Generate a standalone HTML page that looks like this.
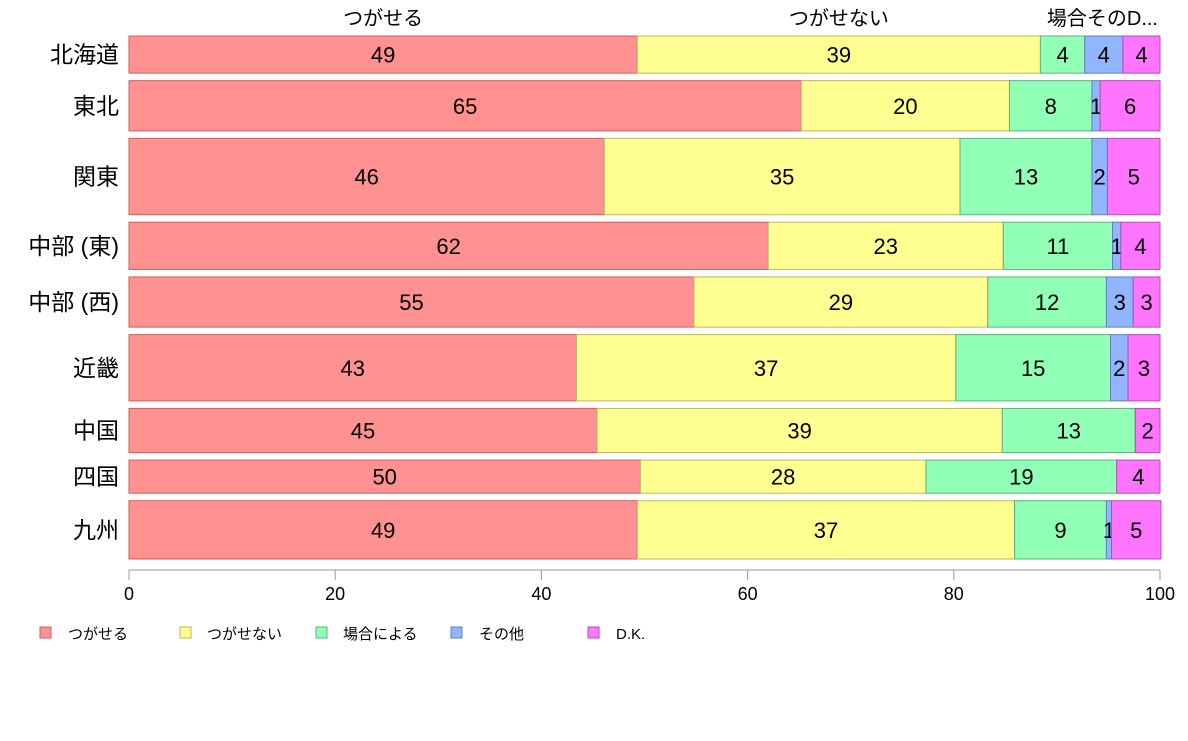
<!DOCTYPE html>
<html><head><meta charset="utf-8"><style>
html,body{margin:0;padding:0;background:#fff;}
svg text{font-family:"Liberation Sans","Noto Sans CJK JP",sans-serif;}
</style></head><body>
<svg id="chart" width="1188" height="736" xmlns="http://www.w3.org/2000/svg"></svg>
<script>
const regions = ["北海道","東北","関東","中部 (東)","中部 (西)","近畿","中国","四国","九州"];
const rowWeights = [37,50,76,47,50,66,44,33,58];
const seriesNames = ["つがせる","つがせない","場合による","その他","D.K."];
const s1 = [49.3,65.2,46.1,62.0,54.8,43.4,45.4,49.6,49.3];
const s2 = [39.1,20.2,34.5,22.8,28.5,36.8,39.3,27.7,36.6];
const s3 = [4.3,8.0,12.8,10.6,11.5,15.0,12.9,18.5,8.9];
const s4 = [3.7,0.8,1.5,0.8,2.6,1.7,0,0,0.5];
const s5 = [3.6,5.8,5.1,3.8,2.6,3.1,2.4,4.2,4.8];
const xTicks = [0,20,40,60,80,100];
const colors = ["#ff9191","#ffff91","#91ffb6","#91b6ff","#ff75ff"];
const strokes = ["#cc6060","#b8b860","#60b080","#6080c0","#b050b0"];
const series = [s1,s2,s3,s4,s5];
const svg = document.getElementById('chart');
const NS = "http://www.w3.org/2000/svg";
const X0=129, X1=1160, Y0=36, Y1=559, GAP=7.5;
const x = v => X0 + (X1-X0)*v/100;
function mk(tag, attrs, parent){const e=document.createElementNS(NS,tag);for(const k in attrs)e.setAttribute(k,attrs[k]);(parent||svg).appendChild(e);return e;}
const totalW = rowWeights.reduce((a,b)=>a+b,0);
const avail = (Y1-Y0) - GAP*(regions.length-1);
let yCur = Y0;
regions.forEach((r,i)=>{
  const h = avail*rowWeights[i]/totalW;
  const g = mk('g',{});
  
  
  const lbl = mk('text',{x:119,y:yCur+h/2+8,'text-anchor':'end','font-size':23,fill:'#000'},g);
  lbl.textContent = r;
  
  
  let cum = 0;
  series.forEach((s,j)=>{
    const v = s[i];
    if (v<=0) return;
    const rect = mk('rect',{x:x(cum),y:yCur,width:x(cum+v)-x(cum),height:h,fill:colors[j],stroke:strokes[j],'stroke-width':1},g);
    
    
    const t = mk('text',{x:(x(cum)+x(cum+v))/2,y:yCur+h/2+8,'text-anchor':'middle','font-size':22,fill:'#000'},g);
    t.textContent = Math.round(v);
    
    
    cum += v;
  });
  if(i===0){
    const tops=[[ (x(0)+x(s1[0]))/2, "つがせる"],[ (x(s1[0])+x(s1[0]+s2[0]))/2,"つがせない"]];
    tops.forEach(([cx,txt])=>{
      const tt=mk('text',{x:cx,y:25,'text-anchor':'middle','font-size':20,fill:'#000'});
      tt.textContent=txt;
      
      
    });
    const tt=mk('text',{x:1158,y:25,'text-anchor':'end','font-size':20,fill:'#000'});
    tt.textContent="場合そのD...";
    
    
  }
  yCur += h + GAP;
});
// x axis
const ax = mk('g',{});


mk('line',{x1:X0,y1:570,x2:X1,y2:570,stroke:'#999','stroke-width':1},ax);
xTicks.forEach(v=>{
  mk('line',{x1:x(v),y1:570,x2:x(v),y2:580,stroke:'#999','stroke-width':1},ax);
  const t=mk('text',{x:x(v),y:600,'text-anchor':'middle','font-size':18,fill:'#000'},ax);
  t.textContent=v;
  
  
});
// legend
const lx=[[40,68],[180,207],[316,343],[451,479],[588,616]];
seriesNames.forEach((n,j)=>{
  const g=mk('g',{});
  
  
  mk('rect',{x:lx[j][0],y:627,width:11,height:11,fill:colors[j],stroke:strokes[j]},g);
  const t=mk('text',{x:lx[j][1],y:639,'font-size':15,fill:'#000'},g);
  t.textContent=n;
});
</script>
</body></html>
